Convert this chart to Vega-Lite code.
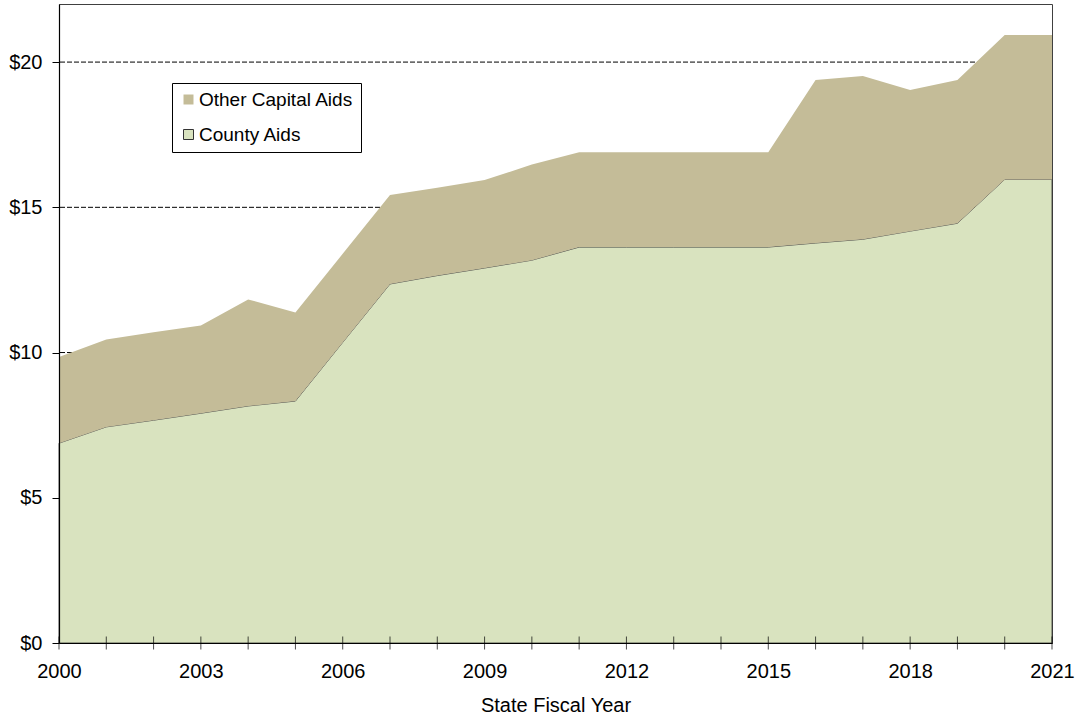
{
  "$schema": "https://vega.github.io/schema/vega-lite/v6.json",
  "autosize": "none",
  "width": 993,
  "height": 639,
  "padding": {"left": 59, "top": 4, "right": 23, "bottom": 72},
  "background": "white",
  "config": {
    "font": "Liberation Sans",
    "view": {"stroke": "#404040", "strokeWidth": 1}
  },
  "datasets": {
    "aids": [
      {"year": 2000, "category": "County Aids", "amount": 6.88},
      {"year": 2001, "category": "County Aids", "amount": 7.44},
      {"year": 2002, "category": "County Aids", "amount": 7.67},
      {"year": 2003, "category": "County Aids", "amount": 7.91},
      {"year": 2004, "category": "County Aids", "amount": 8.16},
      {"year": 2005, "category": "County Aids", "amount": 8.33},
      {"year": 2006, "category": "County Aids", "amount": 10.35},
      {"year": 2007, "category": "County Aids", "amount": 12.36},
      {"year": 2008, "category": "County Aids", "amount": 12.65},
      {"year": 2009, "category": "County Aids", "amount": 12.91},
      {"year": 2010, "category": "County Aids", "amount": 13.18},
      {"year": 2011, "category": "County Aids", "amount": 13.63},
      {"year": 2012, "category": "County Aids", "amount": 13.63},
      {"year": 2013, "category": "County Aids", "amount": 13.63},
      {"year": 2014, "category": "County Aids", "amount": 13.63},
      {"year": 2015, "category": "County Aids", "amount": 13.63},
      {"year": 2016, "category": "County Aids", "amount": 13.77},
      {"year": 2017, "category": "County Aids", "amount": 13.90},
      {"year": 2018, "category": "County Aids", "amount": 14.18},
      {"year": 2019, "category": "County Aids", "amount": 14.45},
      {"year": 2020, "category": "County Aids", "amount": 15.96},
      {"year": 2021, "category": "County Aids", "amount": 15.96},
      {"year": 2000, "category": "Other Capital Aids", "amount": 2.97},
      {"year": 2001, "category": "Other Capital Aids", "amount": 3.01},
      {"year": 2002, "category": "Other Capital Aids", "amount": 3.03},
      {"year": 2003, "category": "Other Capital Aids", "amount": 3.02},
      {"year": 2004, "category": "Other Capital Aids", "amount": 3.67},
      {"year": 2005, "category": "Other Capital Aids", "amount": 3.05},
      {"year": 2006, "category": "Other Capital Aids", "amount": 3.05},
      {"year": 2007, "category": "Other Capital Aids", "amount": 3.06},
      {"year": 2008, "category": "Other Capital Aids", "amount": 3.02},
      {"year": 2009, "category": "Other Capital Aids", "amount": 3.03},
      {"year": 2010, "category": "Other Capital Aids", "amount": 3.29},
      {"year": 2011, "category": "Other Capital Aids", "amount": 3.27},
      {"year": 2012, "category": "Other Capital Aids", "amount": 3.27},
      {"year": 2013, "category": "Other Capital Aids", "amount": 3.27},
      {"year": 2014, "category": "Other Capital Aids", "amount": 3.27},
      {"year": 2015, "category": "Other Capital Aids", "amount": 3.27},
      {"year": 2016, "category": "Other Capital Aids", "amount": 5.61},
      {"year": 2017, "category": "Other Capital Aids", "amount": 5.62},
      {"year": 2018, "category": "Other Capital Aids", "amount": 4.86},
      {"year": 2019, "category": "Other Capital Aids", "amount": 4.93},
      {"year": 2020, "category": "Other Capital Aids", "amount": 4.97},
      {"year": 2021, "category": "Other Capital Aids", "amount": 4.97}
    ],
    "gridlines": [{"level": 5}, {"level": 10}, {"level": 15}, {"level": 20}],
    "years": [
      {"year": 2000}, {"year": 2001}, {"year": 2002}, {"year": 2003}, {"year": 2004},
      {"year": 2005}, {"year": 2006}, {"year": 2007}, {"year": 2008}, {"year": 2009},
      {"year": 2010}, {"year": 2011}, {"year": 2012}, {"year": 2013}, {"year": 2014},
      {"year": 2015}, {"year": 2016}, {"year": 2017}, {"year": 2018}, {"year": 2019},
      {"year": 2020}, {"year": 2021}
    ]
  },
  "layer": [
    {
      "data": {"name": "gridlines"},
      "mark": {"type": "rule", "stroke": "#000000", "strokeWidth": 1, "strokeDash": [5, 2]},
      "encoding": {
        "y": {
          "field": "level", "type": "quantitative",
          "scale": {"domain": [0, 22], "nice": false, "zero": true},
          "axis": {
            "title": null,
            "values": [0, 5, 10, 15, 20],
            "labelExpr": "'$' + datum.value",
            "labelFontSize": 20, "labelColor": "#000", "labelPadding": 10,
            "tickSize": 7, "tickColor": "#000", "tickWidth": 1,
            "grid": false,
            "domainColor": "#000", "domainWidth": 1.2,
            "zindex": 2
          }
        }
      }
    },
    {
      "data": {"name": "aids"},
      "mark": {"type": "area", "strokeWidth": 0.8, "interpolate": "linear"},
      "encoding": {
        "x": {
          "field": "year", "type": "quantitative",
          "scale": {"domain": [2000, 2021], "nice": false, "zero": false},
          "axis": {
            "title": "State Fiscal Year",
            "titleFontSize": 20, "titleFontWeight": "normal", "titleColor": "#000", "titlePadding": 14,
            "values": [2000, 2003, 2006, 2009, 2012, 2015, 2018, 2021],
            "format": "d",
            "labelFontSize": 20, "labelColor": "#000", "labelPadding": 18, "labelFlush": false,
            "ticks": false, "grid": false,
            "domainColor": "#000", "domainWidth": 1.2,
            "zindex": 2
          }
        },
        "y": {
          "field": "amount", "type": "quantitative", "stack": "zero",
          "scale": {"domain": [0, 22], "nice": false, "zero": true},
          "axis": {
            "title": null,
            "values": [0, 5, 10, 15, 20],
            "labelExpr": "'$' + datum.value",
            "labelFontSize": 20, "labelColor": "#000", "labelPadding": 10,
            "tickSize": 7, "tickColor": "#000", "tickWidth": 1,
            "grid": false,
            "domainColor": "#000", "domainWidth": 1.2,
            "zindex": 2
          }
        },
        "color": {
          "field": "category", "type": "nominal",
          "scale": {"domain": ["Other Capital Aids", "County Aids"], "range": ["#C4BC98", "#D9E3BF"]},
          "legend": {
            "title": null,
            "orient": "none", "legendX": 113, "legendY": 79,
            "strokeColor": "#000", "fillColor": "#ffffff",
            "padding": 7,
            "labelFontSize": 19, "labelColor": "#000", "labelLimit": 300,
            "symbolType": "square", "symbolSize": 100, "symbolStrokeWidth": 1,
            "rowPadding": 15, "labelOffset": 1
          }
        },
        "stroke": {
          "field": "category", "type": "nominal",
          "scale": {"domain": ["Other Capital Aids", "County Aids"], "range": ["transparent", "#333333"]},
          "legend": null
        },
        "order": {"field": "category", "sort": "ascending"}
      }
    },
    {
      "data": {"name": "years"},
      "mark": {"type": "tick", "orient": "vertical", "size": 13, "thickness": 1, "color": "#000"},
      "encoding": {
        "x": {"field": "year", "type": "quantitative"},
        "y": {"datum": 0, "type": "quantitative"}
      }
    }
  ]
}
